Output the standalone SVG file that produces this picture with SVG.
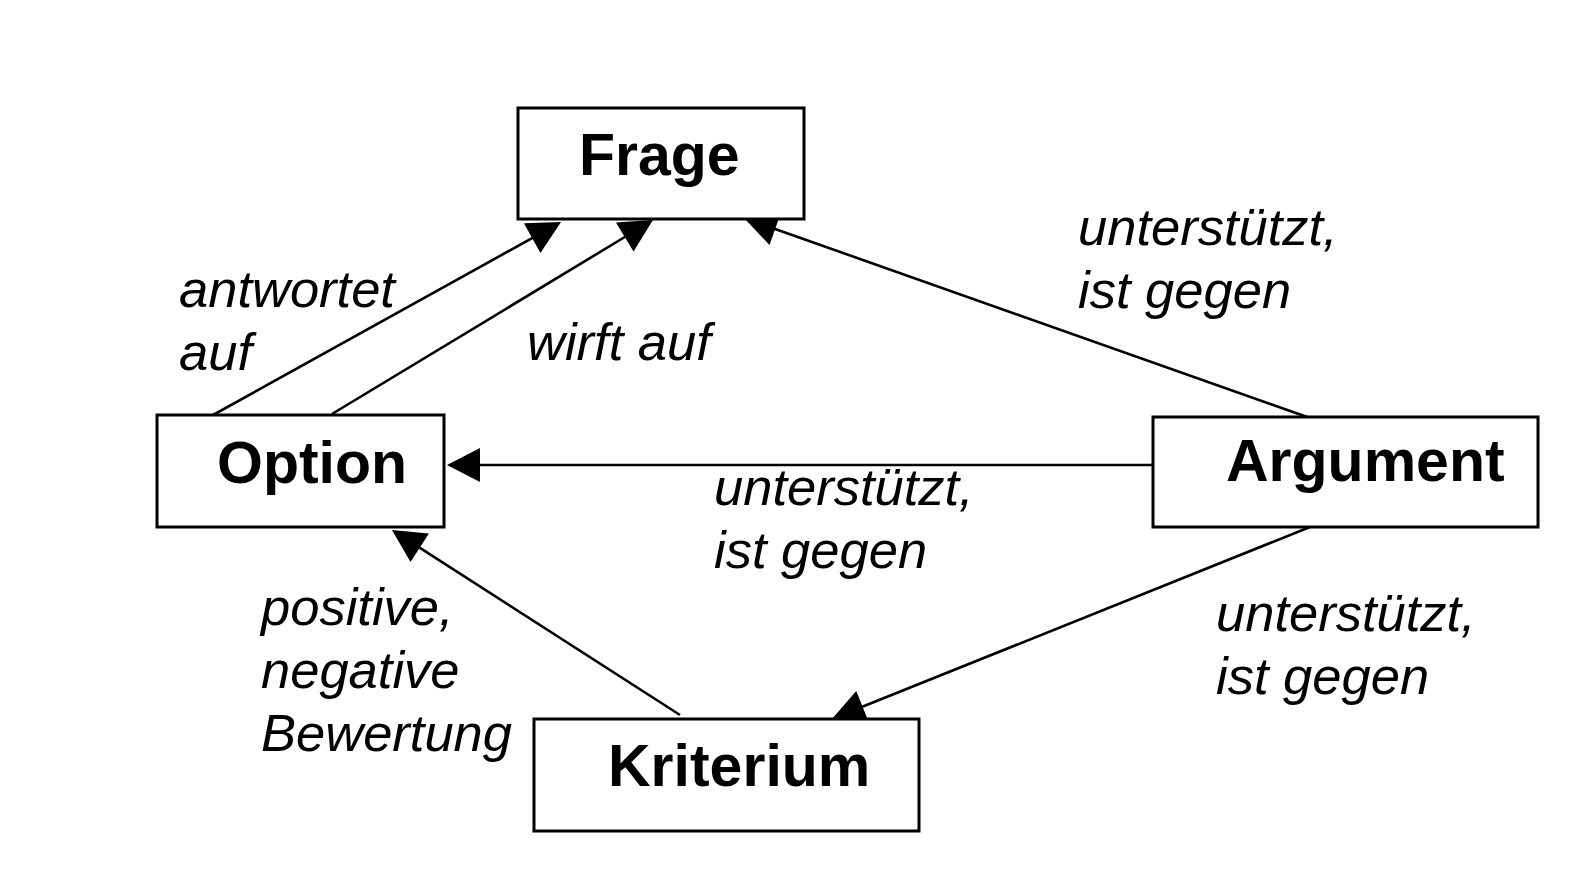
<svg xmlns="http://www.w3.org/2000/svg" width="1594" height="883" viewBox="0 0 1594 883">
<style>
.box{fill:#fff;stroke:#000;stroke-width:3}
.nt{font-family:"Liberation Sans",Arial,sans-serif;font-weight:bold;font-size:59px;fill:#000}
.lt{font-family:"Liberation Sans",Arial,sans-serif;font-style:italic;font-size:52.5px;fill:#000}
.ln{stroke:#000;stroke-width:2.6;fill:none;marker-end:url(#ah)}
</style>
<defs>
<marker id="ah" markerUnits="userSpaceOnUse" orient="auto" refX="0" refY="0" markerWidth="40" markerHeight="40" overflow="visible">
<path d="M30,0 L-3,-17 L-3,17 Z" fill="#000"/>
</marker>
</defs>
<rect width="1594" height="883" fill="#fff"/>
<g id="connectors">
<line class="ln" x1="213" y1="415" x2="534.8" y2="236.6"/>
<line class="ln" x1="332" y1="414" x2="627.3" y2="235.5"/>
<line class="ln" x1="1310" y1="418" x2="772.3" y2="228"/>
<line class="ln" x1="1153" y1="465" x2="477" y2="465"/>
<line class="ln" x1="1310" y1="527" x2="859.8" y2="707.8"/>
<line class="ln" x1="680" y1="715" x2="417.2" y2="546.2"/>
<text class="lt" x="179" y="307">antwortet</text>
<text class="lt" x="179" y="370">auf</text>
<text class="lt" x="527" y="360">wirft auf</text>
<text class="lt" x="1078" y="245">unterstützt,</text>
<text class="lt" x="1078" y="308">ist gegen</text>
<text class="lt" x="714" y="505">unterstützt,</text>
<text class="lt" x="714" y="568">ist gegen</text>
<text class="lt" x="1216" y="631">unterstützt,</text>
<text class="lt" x="1216" y="694">ist gegen</text>
<text class="lt" x="261" y="625">positive,</text>
<text class="lt" x="261" y="688">negative</text>
<text class="lt" x="261" y="751">Bewertung</text>
</g>
<g id="frage">
<rect class="box" x="518" y="108" width="286" height="111"/>
<text class="nt" x="579" y="175">Frage</text>
</g>
<g id="option">
<rect class="box" x="157" y="415" width="287" height="112"/>
<text class="nt" x="217" y="483">Option</text>
</g>
<g id="argument">
<rect class="box" x="1153" y="417" width="385" height="110"/>
<text class="nt" x="1226" y="481">Argument</text>
</g>
<g id="kriterium">
<rect class="box" x="534" y="719" width="385" height="112"/>
<text class="nt" x="608" y="786">Kriterium</text>
</g>
</svg>
